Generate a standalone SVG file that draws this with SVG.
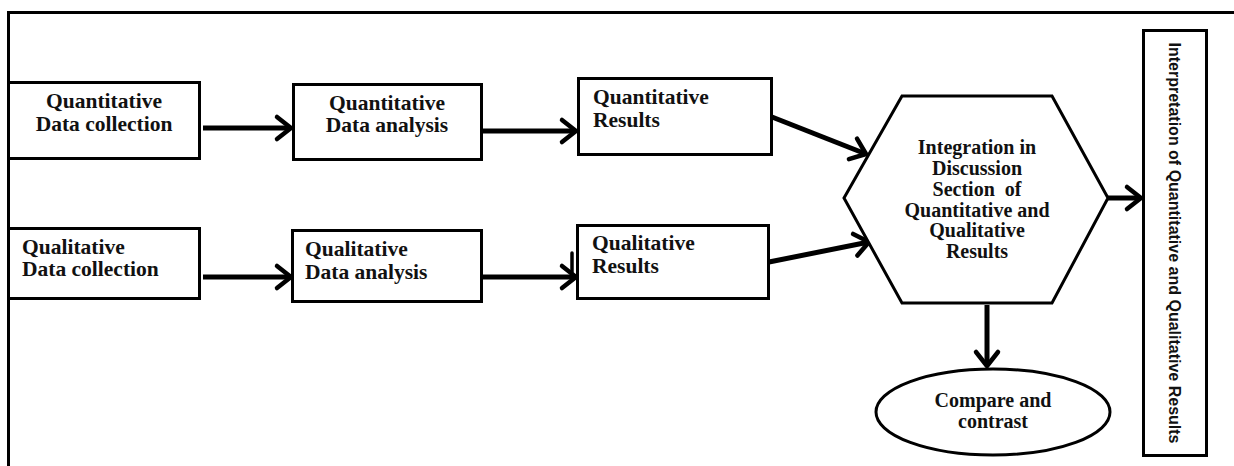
<svg xmlns="http://www.w3.org/2000/svg" width="1234" height="466" viewBox="0 0 1234 466">
  <style>
    .frame { fill: none; stroke: #000; stroke-width: 3; }
    .box { fill: #fff; stroke: #000; stroke-width: 3; }
    .lbl { font-family: "Liberation Serif", "Times New Roman", serif; font-weight: bold; font-size: 21.5px; fill: #111; }
    .mid { text-anchor: middle; }
    .hex { font-size: 20px; }
    .side { font-family: "Liberation Sans", Arial, sans-serif; font-weight: bold; font-size: 16px; fill: #111; text-anchor: middle; }
    .conn { fill: none; stroke: #000; stroke-width: 5; marker-end: url(#chev); }
  </style>
  <defs>
    <marker id="chev" markerUnits="userSpaceOnUse" viewBox="-20 -14 24 28" refX="0" refY="0" markerWidth="24" markerHeight="28" orient="auto" overflow="visible">
      <path d="M-14,-11 L0,0 L-14,11" fill="none" stroke="#000" stroke-width="4.5" stroke-linecap="round" stroke-linejoin="round"/>
    </marker>
  </defs>

  <rect width="1234" height="466" fill="#fff"/>

  <!-- outer frame: top rule and left rule -->
  <path class="frame" d="M8.5,466 L8.5,12.5 L1234,12.5"/>

  <!-- connectors -->
  <g id="connectors">
    <path class="conn" d="M203,128 L291,128"/>
    <path class="conn" d="M482,131 L576,131"/>
    <path class="conn" d="M772,117 L866,154"/>
    <path class="conn" d="M203,277 L291,277"/>
    <path class="conn" d="M482,277 L576,277"/>
    <path d="M572,253 L572,272" fill="none" stroke="#000" stroke-width="3.5" stroke-linecap="round"/>
    <path class="conn" d="M769,262 L869,242"/>
    <path class="conn" d="M987,305 L987,366"/>
    <path class="conn" d="M1108,198 L1141,198"/>
  </g>

  <g id="quant-collection">
    <rect class="box" x="8.5" y="82.5" width="191" height="76"/>
    <text class="lbl mid" x="104" y="108">Quantitative</text>
    <text class="lbl mid" x="104" y="131">Data collection</text>
  </g>

  <g id="quant-analysis">
    <rect class="box" x="293.5" y="84.5" width="188" height="75"/>
    <text class="lbl mid" x="387" y="110">Quantitative</text>
    <text class="lbl mid" x="387" y="132">Data analysis</text>
  </g>

  <g id="quant-results">
    <rect class="box" x="578.5" y="78.5" width="193" height="76"/>
    <text class="lbl" x="593" y="104">Quantitative</text>
    <text class="lbl" x="593" y="127">Results</text>
  </g>

  <g id="qual-collection">
    <rect class="box" x="8.5" y="228.5" width="191" height="70"/>
    <text class="lbl" x="22" y="254">Qualitative</text>
    <text class="lbl" x="22" y="276">Data collection</text>
  </g>

  <g id="qual-analysis">
    <rect class="box" x="292.5" y="230.5" width="189" height="71"/>
    <text class="lbl" x="305" y="256">Qualitative</text>
    <text class="lbl" x="305" y="279">Data analysis</text>
  </g>

  <g id="qual-results">
    <rect class="box" x="577.5" y="225.5" width="191" height="73"/>
    <text class="lbl" x="592" y="250">Qualitative</text>
    <text class="lbl" x="592" y="273">Results</text>
  </g>

  <g id="integration">
    <polygon class="box" points="902,96 1052,96 1108,198 1052,303 902,303 844,198"/>
    <text class="lbl mid hex" x="977" y="154">Integration in</text>
    <text class="lbl mid hex" x="977" y="175">Discussion</text>
    <text class="lbl mid hex" x="977" y="196">Section&#160; of</text>
    <text class="lbl mid hex" x="977" y="217">Quantitative and</text>
    <text class="lbl mid hex" x="977" y="237">Qualitative</text>
    <text class="lbl mid hex" x="977" y="258">Results</text>
  </g>

  <g id="compare">
    <ellipse class="box" cx="993" cy="412" rx="117" ry="43"/>
    <text class="lbl mid hex" x="993" y="407">Compare and</text>
    <text class="lbl mid hex" x="993" y="428">contrast</text>
  </g>

  <g id="interpretation">
    <rect class="box" x="1143.5" y="30.5" width="63" height="425"/>
    <text class="side" transform="translate(1169,243) rotate(90)" x="0" y="0">Interpretation of Quantitative and Qualitative Results</text>
  </g>
</svg>
